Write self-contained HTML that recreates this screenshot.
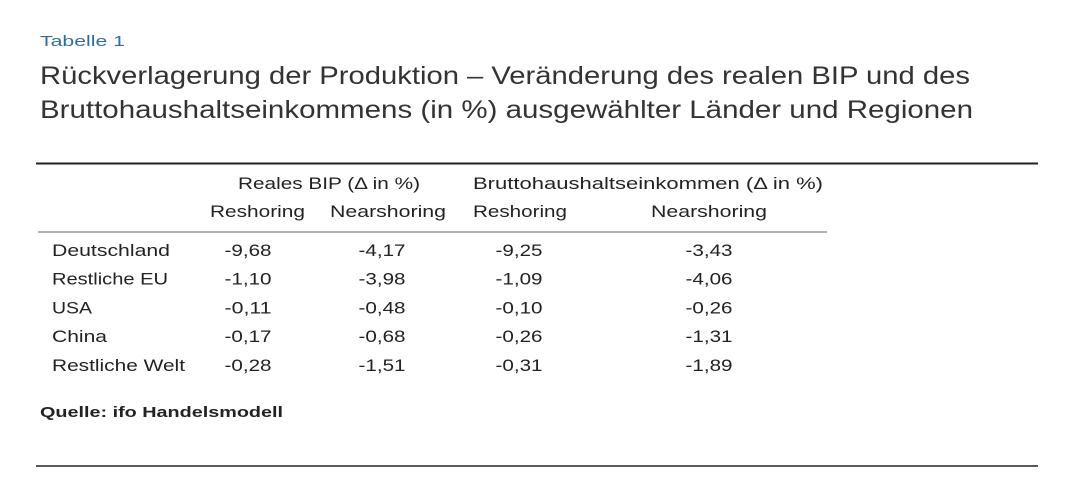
<!DOCTYPE html>
<html><head><meta charset="utf-8"><style>
html,body{margin:0;padding:0;background:#fff;}
svg{display:block;font-family:"Liberation Sans",sans-serif;}
</style></head><body>
<svg width="1080" height="495" viewBox="0 0 1080 495">
<rect width="1080" height="495" fill="#fff"/>
<text x="40" y="46" font-size="15" fill="#2e6ea6" textLength="85" lengthAdjust="spacingAndGlyphs">Tabelle 1</text>
<text x="40" y="84" font-size="25" fill="#333" textLength="930" lengthAdjust="spacingAndGlyphs">Rückverlagerung der Produktion – Veränderung des realen BIP und des</text>
<text x="40" y="118" font-size="25" fill="#333" textLength="933" lengthAdjust="spacingAndGlyphs">Bruttohaushaltseinkommens (in %) ausgewählter Länder und Regionen</text>
<line x1="36" y1="163.5" x2="1038" y2="163.5" stroke="#222" stroke-width="2"/>
<line x1="38" y1="232" x2="827" y2="232" stroke="#999" stroke-width="1.5"/>
<line x1="36" y1="466" x2="1038" y2="466" stroke="#222" stroke-width="1.5"/>
<g fill="#222" font-size="17">
<text x="238" y="189" textLength="182" lengthAdjust="spacingAndGlyphs">Reales BIP (Δ in %)</text>
<text x="473" y="189" textLength="350" lengthAdjust="spacingAndGlyphs">Bruttohaushaltseinkommen (Δ in %)</text>
<text x="210" y="217" textLength="95" lengthAdjust="spacingAndGlyphs">Reshoring</text>
<text x="330" y="217" textLength="116" lengthAdjust="spacingAndGlyphs">Nearshoring</text>
<text x="473" y="217" textLength="94" lengthAdjust="spacingAndGlyphs">Reshoring</text>
<text x="651" y="217" textLength="116" lengthAdjust="spacingAndGlyphs">Nearshoring</text>
</g>
<g id="rows" fill="#222" font-size="17"></g>
<text x="40" y="417" font-size="15" font-weight="bold" fill="#222" textLength="243" lengthAdjust="spacingAndGlyphs">Quelle: ifo Handelsmodell</text>
</svg>
<script>
const countries=["Deutschland","Restliche EU","USA","China","Restliche Welt"];
const labelWidths=[118,116,40,55,133];
const gdpReshoring=["-9,68","-1,10","-0,11","-0,17","-0,28"];
const gdpNearshoring=["-4,17","-3,98","-0,48","-0,68","-1,51"];
const incReshoring=["-9,25","-1,09","-0,10","-0,26","-0,31"];
const incNearshoring=["-3,43","-4,06","-0,26","-1,31","-1,89"];
const NS="http://www.w3.org/2000/svg";
const g=document.getElementById('rows');
const colX=[248,382,519,709];
const cols=[gdpReshoring,gdpNearshoring,incReshoring,incNearshoring];
const colNames=['gdp-reshoring','gdp-nearshoring','income-reshoring','income-nearshoring'];
function t(x,y,s,anchor,len){const e=document.createElementNS(NS,'text');e.setAttribute('x',x);e.setAttribute('y',y);if(anchor)e.setAttribute('text-anchor',anchor);if(len){e.setAttribute('textLength',len);e.setAttribute('lengthAdjust','spacingAndGlyphs');}e.textContent=s;g.appendChild(e);return e;}
countries.forEach((c,i)=>{
  const y=256+i*28.7;
  const l=t(52,y,c,null,labelWidths[i]);
  
  
  cols.forEach((arr,j)=>{
    const v=t(colX[j],y,arr[i],'middle',47);
    
    
  });
});
</script>
</body></html>
